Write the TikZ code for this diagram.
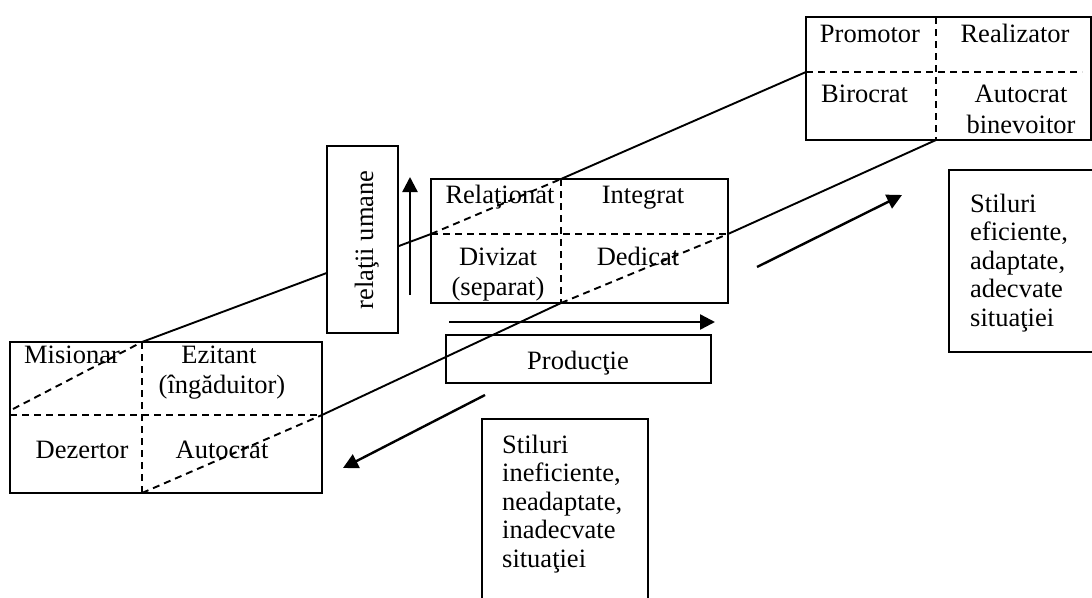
\documentclass[tikz,border=0pt]{standalone}
\usepackage{fontspec}
\setmainfont{Liberation Serif}
\usetikzlibrary{arrows.meta}

\tikzset{
  txt/.style={inner sep=0pt, anchor=base, font=\fontsize{26.5}{28.5}\selectfont},
  txtl/.style={txt, anchor=base west},
  frame/.style={draw, line width=2.2pt, inner sep=0pt},
  divider/.style={line width=2pt, dash pattern=on 7pt off 5pt},
  diag/.style={line width=1.9pt},
  diagdash/.style={line width=1.9pt, dash pattern=on 7pt off 5pt},
  bigarrow/.style={line width=2.4pt, -{Triangle[length=15pt,width=15pt]}}
}

\begin{document}
\begin{tikzpicture}[x=1pt,y=-1pt]
\useasboundingbox (0,0) rectangle (1092,597);

% ---- the three style grids ----
\node[frame, minimum width=285pt, minimum height=123pt] (tr) at (948.5,78.5) {};
\node[frame, minimum width=297pt, minimum height=124pt] (mid) at (579.5,241) {};
\node[frame, minimum width=312pt, minimum height=151pt] (ll) at (166,417.5) {};

% grid split points
\coordinate (trN) at (936,17);   \coordinate (trS) at (936,140);
\coordinate (trW) at (806,72);   \coordinate (trE) at (1082,72);
\coordinate (mN)  at (561,179);  \coordinate (mS)  at (561,303);
\coordinate (mW)  at (431,234);  \coordinate (mE)  at (728,234);
\coordinate (lN)  at (142,342);  \coordinate (lS)  at (142,493);
\coordinate (lW)  at (10,415);   \coordinate (lE)  at (322,415);
\coordinate (lA)  at (13,409);

\draw[divider] (trN) -- (trS);  \draw[divider] (trW) -- (trE);
\draw[divider] (mN) -- (mS);    \draw[divider] (mW) -- (mE);
\draw[divider] (lN) -- (lS);    \draw[divider] (lW) -- (lE);

% ---- the two diagonals running through the grids ----
\draw[diagdash] (lA) -- (lN);
\draw[diag] (lN) -- (mW);
\draw[diagdash] (mW) -- (mN);
\draw[diag] (mN) -- (trW);

\draw[diagdash] (lS) -- (lE);
\draw[diag] (lE) -- (mS);
\draw[diagdash] (mS) -- (mE);
\draw[diag] (mE) -- (trS);

% ---- axis boxes ----
\node[frame, fill=white, minimum width=71pt, minimum height=187pt] (rel) at (362.5,239.5) {};
\node[txt, rotate=90] (reltxt) at (373,240) {relaţii umane};
\node[frame, minimum width=265pt, minimum height=48pt] (prod) at (578.5,359) {};
\node[txt] (prodtxt) at (578,369) {Producţie};

% ---- grid labels ----
\node[txt] (promotor) at (870,42) {Promotor};
\node[txt] (realizator) at (1015,42) {Realizator};
\node[txtl] (birocrat) at (821,102) {Birocrat};
\node[txt] (autob1) at (1021,102) {Autocrat};
\node[txt] (autob2) at (1021,133) {binevoitor};

\node[txt] (relational) at (500,203) {Relaţionat};
\node[txt] (integrat) at (643,203) {Integrat};
\node[txt] (divizat1) at (498,265) {Divizat};
\node[txt] (divizat2) at (498,295) {(separat)};
\node[txt] (dedicat) at (638,265) {Dedicat};

\node[txt] (misionar) at (72,363) {Misionar};
\node[txt] (ezitant1) at (219,363) {Ezitant};
\node[txt] (ezitant2) at (222,393) {(îngăduitor)};
\node[txt] (dezertor) at (82,458) {Dezertor};
\node[txt] (autocrat) at (222,458) {Autocrat};

% ---- direction arrows ----
\coordinate (upA) at (410,295);  \coordinate (upB) at (410,177);
\coordinate (rtA) at (449,322);  \coordinate (rtB) at (715,322);
\coordinate (neA) at (757,267);  \coordinate (neB) at (902,195);
\coordinate (swA) at (485,395);  \coordinate (swB) at (343,468);
\draw[bigarrow] (upA) -- (upB);
\draw[bigarrow] (rtA) -- (rtB);
\draw[bigarrow] (neA) -- (neB);
\draw[bigarrow] (swA) -- (swB);

% ---- outcome boxes ----
\node[frame, minimum width=146pt, minimum height=182pt] (good) at (1022,261) {};
\foreach \t [count=\i] in {Stiluri, {eficiente,}, {adaptate,}, adecvate, situaţiei}
  \node[txtl] (good\i) at (970,{212+28.5*(\i-1)}) {\t};

\node[frame, minimum width=166pt, minimum height=190pt] (bad) at (565,514) {};
\foreach \t [count=\i] in {Stiluri, {ineficiente,}, {neadaptate,}, inadecvate, situaţiei}
  \node[txtl] (bad\i) at (502,{453+28.5*(\i-1)}) {\t};
\end{tikzpicture}
\end{document}
